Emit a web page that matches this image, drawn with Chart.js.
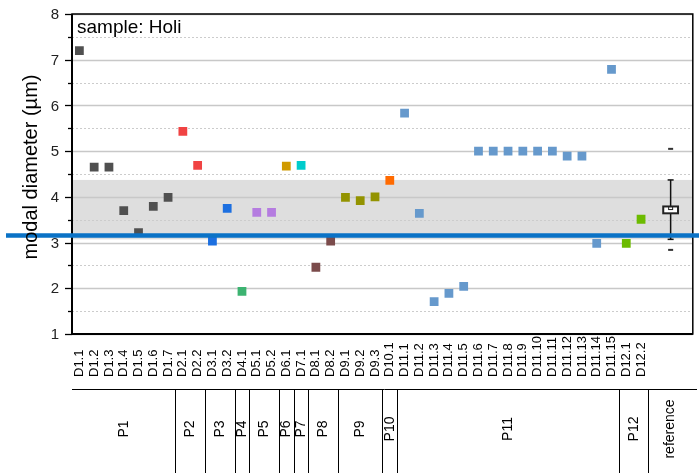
<!DOCTYPE html>
<html>
<head>
<meta charset="utf-8">
<script src="https://cdn.jsdelivr.net/npm/chart.js@4/dist/chart.umd.min.js"></script>
<style>
  html, body { margin: 0; padding: 0; background: #fff; }
  #wrap { width: 699px; height: 473px; position: relative; }
</style>
</head>
<body>
<div id="wrap"><canvas id="chart"></canvas></div>
<script>
// sample labels, one per measured point (left to right)
const sampleLabels = [
  'D1.1', 'D1.2', 'D1.3', 'D1.4', 'D1.5', 'D1.6', 'D1.7',
  'D2.1', 'D2.2', 'D3.1', 'D3.2', 'D4.1', 'D5.1', 'D5.2',
  'D6.1', 'D7.1', 'D8.1', 'D8.2', 'D9.1', 'D9.2', 'D9.3', 'D10.1',
  'D11.1', 'D11.2', 'D11.3', 'D11.4', 'D11.5', 'D11.6', 'D11.7', 'D11.8',
  'D11.9', 'D11.10', 'D11.11', 'D11.12', 'D11.13', 'D11.14', 'D11.15',
  'D12.1', 'D12.2'
];
// modal diameter (µm)
const modalDiameter = [
  7.20, 4.65, 4.65, 3.70, 3.22, 3.79, 3.99,
  5.43, 4.69, 3.03, 3.75, 1.93, 3.66, 3.66,
  4.67, 4.69, 2.46, 3.03, 3.99, 3.92, 4.00, 4.36,
  5.83, 3.64, 1.71, 1.89, 2.04, 5.00, 5.00, 5.00,
  5.00, 5.00, 5.00, 4.89, 4.89, 2.98, 6.79,
  2.98, 3.51
];
const groupNames = ['P1', 'P2', 'P3', 'P4', 'P5', 'P6', 'P7', 'P8', 'P9', 'P10', 'P11', 'P12'];
const groupSizes = [7, 2, 2, 1, 2, 1, 1, 2, 3, 1, 15, 2];
const groupColors = ['#505050', '#f04343', '#1c6fe0', '#3cb371', '#b57ce0', '#d09a00',
  '#00cccc', '#7b4b4b', '#939300', '#ff6a00', '#6699cc', '#6cbb00'];

// reference sample (box plot)
const refName = 'reference';
const refWhisker = [3.07, 4.37];
const refBox = [3.64, 3.79];
const refMean = 3.755;
const refExtremes = [2.84, 5.05];
const refLine = 3.155;

const yTicks = [1, 2, 3, 4, 5, 6, 7, 8];

const FONT = 'Arial, "Liberation Sans", sans-serif';
const refSlot = sampleLabels.length + 1;   // one empty slot before the reference
const slotCount = sampleLabels.length + 3;

// build one dataset per group
const datasets = [];
let start = 0;
groupSizes.forEach((n, g) => {
  const pts = [];
  for (let i = start; i < start + n; i++) {
    pts.push({ x: i, y: modalDiameter[i] });
  }
  datasets.push({
    label: groupNames[g],
    data: pts,
    backgroundColor: groupColors[g],
    borderColor: groupColors[g],
    borderWidth: 0,
    pointStyle: 'rect',
    pointRadius: 6.2
  });
  start += n;
});

const decor = {
  id: 'decor',
  beforeDraw(chart) {
    const { ctx, chartArea: a, scales: { y } } = chart;
    ctx.save();
    ctx.fillStyle = '#fff';
    ctx.fillRect(0, 0, chart.width, chart.height);
    // shaded band = reference whisker range
    const t = y.getPixelForValue(refWhisker[1]);
    const b = y.getPixelForValue(refWhisker[0]);
    ctx.fillStyle = '#dedede';
    ctx.fillRect(a.left, t, a.right - a.left, b - t);
    ctx.restore();
  },
  beforeDatasetsDraw(chart) {
    const { ctx, chartArea: a, scales: { y } } = chart;
    ctx.save();
    y.ticks.forEach(tk => {
      const py = Math.round(y.getPixelForValue(tk.value)) + 0.5;
      const major = Number.isInteger(tk.value);
      ctx.beginPath();
      if (major) {
        ctx.strokeStyle = '#c8c8c8';
        ctx.lineWidth = 1.6;
        ctx.setLineDash([]);
      } else {
        ctx.strokeStyle = '#cccccc';
        ctx.lineWidth = 1;
        ctx.setLineDash([2, 2]);
      }
      ctx.moveTo(a.left, py);
      ctx.lineTo(a.right, py);
      ctx.stroke();
      // tick marks
      ctx.setLineDash([]);
      ctx.strokeStyle = '#000';
      ctx.lineWidth = 1.3;
      ctx.beginPath();
      ctx.moveTo(a.left - (major ? 7 : 4), py);
      ctx.lineTo(a.left, py);
      ctx.stroke();
    });
    // tick labels
    ctx.fillStyle = '#222';
    ctx.font = '15px ' + FONT;
    ctx.textAlign = 'right';
    ctx.textBaseline = 'middle';
    yTicks.forEach(v => {
      ctx.fillText(String(v), a.left - 13, y.getPixelForValue(v) + 1);
    });
    ctx.restore();
  },
  afterDatasetsDraw(chart) {
    const { ctx, chartArea: a, scales: { x, y } } = chart;
    const slot = x.getPixelForValue(1) - x.getPixelForValue(0);
    ctx.save();

    // reference box plot
    const xc = x.getPixelForValue(refSlot);
    ctx.strokeStyle = '#111';
    ctx.lineWidth = 1.5;
    ctx.beginPath();
    ctx.moveTo(xc, y.getPixelForValue(refWhisker[0]));
    ctx.lineTo(xc, y.getPixelForValue(refWhisker[1]));
    ctx.stroke();
    refWhisker.forEach(v => {
      const py = y.getPixelForValue(v);
      ctx.beginPath();
      ctx.moveTo(xc - 3, py);
      ctx.lineTo(xc + 3, py);
      ctx.stroke();
    });
    const bt = y.getPixelForValue(refBox[1]);
    const bb = y.getPixelForValue(refBox[0]);
    ctx.fillStyle = '#fff';
    ctx.fillRect(xc - slot / 2, bt, slot, bb - bt);
    ctx.lineWidth = 2;
    ctx.strokeStyle = '#222';
    ctx.strokeRect(xc - slot / 2, bt, slot, bb - bt);
    const pm = y.getPixelForValue(refMean);
    ctx.lineWidth = 1;
    ctx.strokeRect(xc - 2, pm - 1.5, 4, 3);
    ctx.fillStyle = '#333';
    refExtremes.forEach(v => {
      const py = y.getPixelForValue(v);
      ctx.fillRect(xc - 2.5, py - 1, 5, 2);
    });

    // plot frame
    ctx.strokeStyle = '#000';
    ctx.lineWidth = 1.5;
    ctx.strokeRect(a.left, a.top, a.right - a.left, a.bottom - a.top);
    ctx.lineWidth = 2;
    ctx.beginPath();
    ctx.moveTo(a.left, a.top);
    ctx.lineTo(a.left, a.bottom);
    ctx.lineTo(a.right, a.bottom);
    ctx.stroke();

    // reference line
    const ly = y.getPixelForValue(refLine);
    ctx.strokeStyle = '#0a72c6';
    ctx.lineWidth = 4.5;
    ctx.beginPath();
    ctx.moveTo(6, ly);
    ctx.lineTo(chart.width, ly);
    ctx.stroke();

    // sample tag
    ctx.fillStyle = '#000';
    ctx.font = '19px ' + FONT;
    ctx.textAlign = 'left';
    ctx.textBaseline = 'alphabetic';
    ctx.fillText('sample: Holi', a.left + 5, a.top + 19);

    // y title
    ctx.save();
    ctx.translate(31, 167);
    ctx.rotate(-Math.PI / 2);
    ctx.textAlign = 'center';
    ctx.textBaseline = 'middle';
    ctx.font = '20px ' + FONT;
    ctx.fillText('modal diameter (µm)', 0, 0);
    ctx.restore();

    // sample labels (rotated, starting at the bottom)
    ctx.font = '13px ' + FONT;
    sampleLabels.forEach((lab, i) => {
      ctx.save();
      ctx.translate(x.getPixelForValue(i), a.bottom + 43);
      ctx.rotate(-Math.PI / 2);
      ctx.textAlign = 'left';
      ctx.textBaseline = 'middle';
      ctx.fillText(lab, 0, 0);
      ctx.restore();
    });

    // group table
    const rowTop = a.bottom + 55;
    ctx.strokeStyle = '#000';
    ctx.lineWidth = 1;
    ctx.beginPath();
    ctx.moveTo(a.left, rowTop + 0.5);
    ctx.lineTo(chart.width - 2, rowTop + 0.5);
    ctx.stroke();
    const edges = [];
    let s = 0;
    groupSizes.forEach(n => { edges.push([s, s + n]); s += n; });
    edges.push([s, slotCount]);
    const names = groupNames.concat([refName]);
    ctx.font = '14px ' + FONT;
    edges.forEach(([s0, s1], g) => {
      const left = x.getPixelForValue(s0 - 0.5);
      const right = x.getPixelForValue(s1 - 0.5);
      if (g > 0) {
        const px = Math.round(left) + 0.5;
        ctx.beginPath();
        ctx.moveTo(px, rowTop);
        ctx.lineTo(px, chart.height);
        ctx.stroke();
      }
      ctx.save();
      ctx.translate((left + right) / 2, 429);
      ctx.rotate(-Math.PI / 2);
      ctx.textAlign = 'center';
      ctx.textBaseline = 'middle';
      ctx.fillText(names[g], 0, 0);
      ctx.restore();
    });
    ctx.restore();
  }
};

new Chart(document.getElementById('chart'), {
  type: 'scatter',
  data: { datasets: datasets },
  options: {
    responsive: true,
    maintainAspectRatio: false,
    animation: false,
    events: [],
    layout: { padding: { left: 0, top: 14, right: 3, bottom: 139 } },
    plugins: { legend: { display: false }, tooltip: { enabled: false } },
    scales: {
      x: {
        type: 'linear',
        min: -0.5,
        max: slotCount - 0.5,
        display: false
      },
      y: {
        min: yTicks[0],
        max: yTicks[yTicks.length - 1],
        afterFit(scale) { scale.width = 72; },
        grid: { display: false, drawTicks: false },
        border: { display: false },
        ticks: { stepSize: 0.5, autoSkip: false, display: false }
      }
    }
  },
  plugins: [decor]
});
</script>
</body>
</html>
